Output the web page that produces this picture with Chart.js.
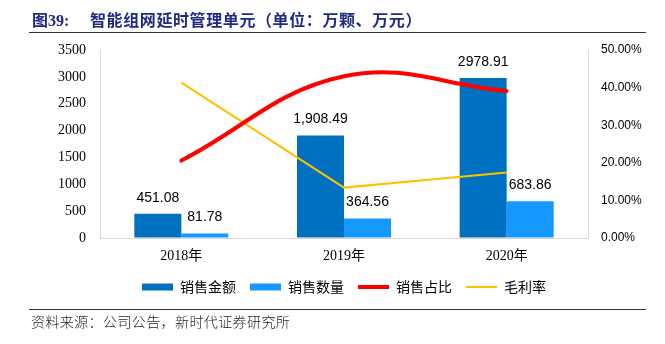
<!DOCTYPE html>
<html>
<head>
<meta charset="utf-8">
<script src="https://cdn.jsdelivr.net/npm/chart.js@4/dist/chart.umd.min.js"></script>
<style>
  body { margin: 0; background: #fff; }
  #wrap { position: relative; width: 665px; height: 344px; overflow: hidden; background: #fff; }
  #chart { position: absolute; left: 0; top: 0; }
  .t { position: absolute; white-space: nowrap; color: #1F2A80; font-weight: bold; line-height: 20px; }
  .fig { left: 32px; top: 9px; font-size: 16px; font-family: "Liberation Serif", "Noto Sans CJK SC", serif; }
  .fig .cn { font-family: "Noto Sans CJK SC", sans-serif; }
  .name { left: 90px; top: 9px; font-size: 16px; font-family: "Noto Sans CJK SC", sans-serif; letter-spacing: 0.6px; }
  .rule { position: absolute; left: 29px; width: 617px; height: 0; border-top: 1.5px solid #333; }
  .src { position: absolute; left: 31px; top: 312px; font-size: 14px; line-height: 18px; color: #222;
         font-family: "Noto Sans CJK SC", sans-serif; font-weight: 300; letter-spacing: 0.4px; white-space: nowrap; }
</style>
</head>
<body>
<div id="wrap">
  <canvas id="chart" width="665" height="344"></canvas>
  <div class="t fig"><span class="cn">图</span>39:</div>
  <div class="t name">智能组网延时管理单元（单位：万颗、万元）</div>
  <div class="rule" style="top:32px"></div>
  <div class="rule" style="top:309px"></div>
  <div class="src">资料来源：公司公告，新时代证券研究所</div>
</div>
<script>
// Years on the category axis
const years = ['2018年', '2019年', '2020年'];
// Sales amount (万元) and sales volume (万颗)
const salesAmount = [451.08, 1908.49, 2978.91];
const salesVolume = [81.78, 364.56, 683.86];
// Value labels printed above the bars
const amountLabels = ['451.08', '1,908.49', '2978.91'];
const volumeLabels = ['81.78', '364.56', '683.86'];
// Share of sales and gross margin (fractions)
const salesShare = [0.206, 0.430, 0.391];
const grossMargin = [0.413, 0.134, 0.174];
// Right-axis ticks
const pctTicks = [0, 0.1, 0.2, 0.3, 0.4, 0.5];

const barValueLabels = {
  id: 'barValueLabels',
  afterDatasetsDraw(chart) {
    const ctx = chart.ctx;
    ctx.save();
    ctx.font = '14px "Liberation Sans", Arial, sans-serif';
    ctx.fillStyle = '#000';
    ctx.textAlign = 'center';
    ctx.textBaseline = 'middle';
    [[0, amountLabels], [1, volumeLabels]].forEach(([di, texts]) => {
      chart.getDatasetMeta(di).data.forEach((bar, i) => {
        ctx.fillText(texts[i], bar.x, bar.y - 16);
      });
    });
    ctx.restore();
  }
};

new Chart(document.getElementById('chart'), {
  data: {
    labels: years,
    datasets: [
      { type: 'bar', label: '销售金额', data: salesAmount, yAxisID: 'y',
        backgroundColor: '#0070C0', borderWidth: 0, order: 2,
        categoryPercentage: 0.578, barPercentage: 1, pointStyle: 'rect' },
      { type: 'bar', label: '销售数量', data: salesVolume, yAxisID: 'y',
        backgroundColor: '#1599FF', borderWidth: 0, order: 2,
        categoryPercentage: 0.578, barPercentage: 1, pointStyle: 'rect' },
      { type: 'line', label: '销售占比', data: salesShare, yAxisID: 'y1',
        borderColor: '#FF0000', backgroundColor: '#FF0000', borderWidth: 4,
        borderCapStyle: 'round', tension: 0.4, pointRadius: 0, order: 1, pointStyle: 'line' },
      { type: 'line', label: '毛利率', data: grossMargin, yAxisID: 'y1',
        borderColor: '#FFC000', backgroundColor: '#FFC000', borderWidth: 2,
        tension: 0, pointRadius: 0, order: 1, pointStyle: 'line' }
    ]
  },
  options: {
    responsive: false,
    animation: false,
    layout: { padding: { left: 0, right: 0, top: 50, bottom: 40 } },
    plugins: {
      tooltip: { enabled: false },
      legend: {
        position: 'bottom',
        fullSize: false,
        labels: {
          usePointStyle: true,
          pointStyleWidth: 31,
          boxHeight: 7,
          padding: 14,
          color: '#000',
          font: { family: '"Noto Sans CJK SC", sans-serif', size: 14 },
          sort: (a, b) => a.datasetIndex - b.datasetIndex
        }
      }
    },
    scales: {
      x: {
        grid: { display: false },
        border: { color: '#d9d9d9', width: 1 },
        ticks: { color: '#000', padding: 2,
                 font: { family: '"Liberation Serif", "Noto Sans CJK SC", serif', size: 14 } },
        afterFit(s) { s.height = 28; }
      },
      y: {
        position: 'left', min: 0, max: 3500,
        grid: { drawOnChartArea: false, drawTicks: false },
        border: { color: '#d9d9d9', width: 1 },
        ticks: { stepSize: 500, color: '#000', padding: 14,
                 font: { family: '"Liberation Serif", serif', size: 14 },
                 callback: v => String(v) },
        afterFit(s) { s.width = 100; }
      },
      y1: {
        position: 'right', min: 0, max: 0.5,
        grid: { drawOnChartArea: false, drawTicks: false },
        border: { color: '#d9d9d9', width: 1 },
        afterBuildTicks(s) { s.ticks = pctTicks.map(v => ({ value: v })); },
        ticks: { color: '#000', padding: 13,
                 font: { family: '"Liberation Sans", Arial, sans-serif', size: 12 },
                 callback: v => (v * 100).toFixed(2) + '%' },
        afterFit(s) { s.width = 77; }
      }
    }
  },
  plugins: [barValueLabels]
});
</script>
</body>
</html>
